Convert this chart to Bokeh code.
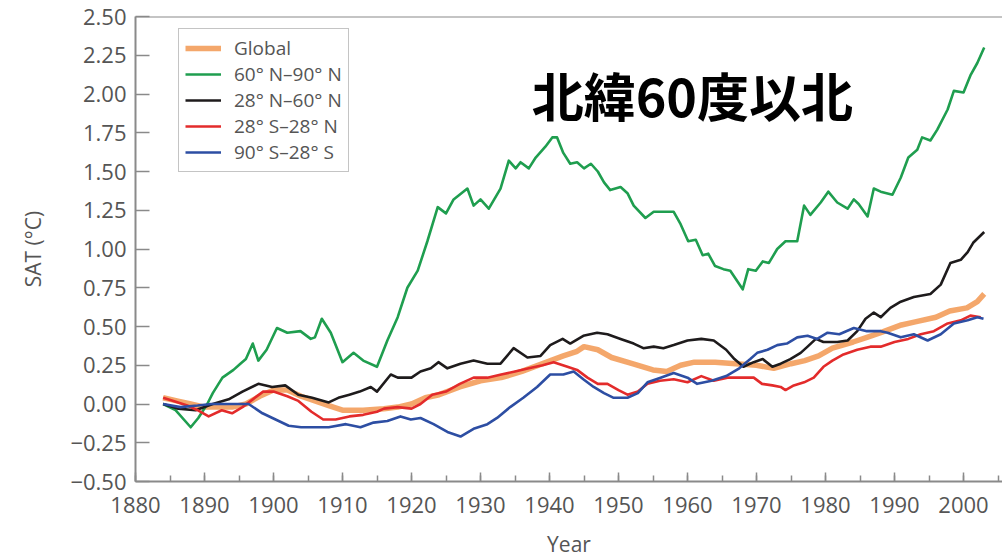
from bokeh.plotting import figure
from bokeh.models import (Range1d, FixedTicker, Legend, LegendItem, Label, Span,
                          CustomJSTickFormatter)
from bokeh.embed import file_html
from bokeh.resources import INLINE

# Surface air temperature anomalies (deg C) by latitude band, 1884-2003
years_global = [1884, 1886, 1888, 1890, 1892, 1894, 1896, 1898, 1900, 1902, 1904, 1906, 1908,
                1910, 1913, 1916, 1918, 1920, 1922, 1924, 1927, 1930, 1933, 1936, 1939, 1942,
                1944, 1945, 1947, 1949, 1952, 1955, 1957, 1959, 1961, 1964, 1967, 1970, 1972.5,
                1975, 1977, 1979, 1981, 1984, 1986, 1988, 1991, 1993, 1996, 1998, 2000.5, 2002,
                2003]
sat_global = [0.04, 0.02, 0.00, -0.02, -0.02, -0.02, 0.00, 0.05, 0.09, 0.09, 0.05, 0.02, -0.01,
              -0.04, -0.04, -0.03, -0.02, 0.00, 0.04, 0.06, 0.11, 0.15, 0.17, 0.21, 0.26, 0.31,
              0.34, 0.37, 0.35, 0.30, 0.26, 0.22, 0.21, 0.25, 0.27, 0.27, 0.26, 0.25, 0.23,
              0.26, 0.28, 0.31, 0.36, 0.40, 0.43, 0.46, 0.51, 0.53, 0.56, 0.60, 0.62, 0.66,
              0.71]

years_arctic = [1884, 1885.8, 1888, 1889.1, 1890.4, 1891.2, 1892.6, 1894.2, 1895.2, 1896, 1897,
                1897.8, 1899, 1900.5, 1902, 1903.9, 1905.4, 1906, 1907, 1908.3, 1910, 1911.6,
                1913, 1915, 1916.5, 1918, 1919.4, 1920.9, 1922.3, 1923.8, 1925, 1926.1, 1928.1,
                1929, 1930, 1931.2, 1932.9, 1934.1, 1935.1, 1935.8, 1937, 1938, 1939.4, 1940.4,
                1941.1, 1942, 1943, 1944, 1945, 1946, 1947, 1947.9, 1948.8, 1950.3, 1951.3,
                1952.2, 1953.9, 1955.1, 1958, 1959, 1960.1, 1961.2, 1962.2, 1963, 1964, 1965.2,
                1966.2, 1968, 1968.8, 1969.9, 1970.9, 1971.8, 1973, 1974.2, 1975.9, 1976.9,
                1977.8, 1979.3, 1980.4, 1981.7, 1983.2, 1984.1, 1984.8, 1986.1, 1987, 1988,
                1989.7, 1990.9, 1992, 1993.3, 1994, 1995.2, 1996.2, 1997.7, 1998.6, 2000, 2001,
                2002, 2003]
sat_arctic = [0.00, -0.04, -0.15, -0.09, 0.00, 0.07, 0.17, 0.22, 0.26, 0.29, 0.39,
              0.28, 0.35, 0.49, 0.46, 0.47, 0.42, 0.43, 0.55, 0.46, 0.27, 0.33,
              0.28, 0.24, 0.41, 0.56, 0.75, 0.86, 1.05, 1.27, 1.23, 1.32, 1.39,
              1.28, 1.32, 1.26, 1.39, 1.57, 1.52, 1.56, 1.52, 1.59, 1.66, 1.72,
              1.72, 1.62, 1.55, 1.56, 1.52, 1.55, 1.50, 1.43, 1.38, 1.40, 1.36,
              1.28, 1.20, 1.24, 1.24, 1.16, 1.05, 1.06, 0.96, 0.97, 0.89, 0.87,
              0.86, 0.74, 0.87, 0.86, 0.92, 0.91, 1.00, 1.05, 1.05, 1.28,
              1.22, 1.30, 1.37, 1.30, 1.26, 1.32, 1.29, 1.21, 1.39, 1.37,
              1.35, 1.46, 1.59, 1.64, 1.72, 1.70, 1.77, 1.90, 2.02, 2.01, 2.12,
              2.20, 2.30]

years_north_mid = [1884, 1886.2, 1888.7, 1891.2, 1893.5, 1895.5, 1897.8, 1899.8, 1901.7, 1903.6,
                   1905.6, 1908, 1909.4, 1911, 1912.5, 1914.1, 1915, 1917, 1918, 1920, 1921.3,
                   1922.8, 1923.9, 1925.2, 1927.1, 1929, 1931, 1932.9, 1934.8, 1936.8, 1938.7,
                   1940.1, 1941.9, 1943, 1944.9, 1946.9, 1948.4, 1950.3, 1952.2, 1953.6, 1955.1,
                   1956.5, 1958, 1960, 1962, 1963.8, 1965.6, 1966.8, 1968.1, 1969.6, 1970.9,
                   1972.3, 1973.5, 1974.9, 1976.4, 1977.4, 1978.6, 1979.7, 1981.7, 1983.2,
                   1984.6, 1985.8, 1987, 1988, 1989.4, 1990.9, 1992.8, 1995.2, 1996.7, 1998.1,
                   1999.6, 2000.6, 2001.4, 2003]
sat_north_mid = [0.00, -0.03, -0.04, 0.00, 0.03, 0.08, 0.13, 0.11, 0.12, 0.06,
                 0.04, 0.01, 0.04, 0.06, 0.08, 0.11, 0.08, 0.19, 0.17, 0.17, 0.21,
                 0.23, 0.27, 0.23, 0.26, 0.28, 0.26, 0.26, 0.36, 0.30, 0.31,
                 0.38, 0.42, 0.39, 0.44, 0.46, 0.45, 0.42, 0.39, 0.36, 0.37,
                 0.36, 0.38, 0.41, 0.42, 0.41, 0.35, 0.29, 0.24, 0.27, 0.29,
                 0.24, 0.26, 0.29, 0.33, 0.37, 0.42, 0.40, 0.40, 0.41,
                 0.47, 0.55, 0.59, 0.56, 0.62, 0.66, 0.69, 0.71, 0.77, 0.91,
                 0.93, 0.98, 1.04, 1.11]

years_tropics = [1884, 1885.5, 1887.5, 1889, 1890.6, 1892.5, 1894, 1895.5, 1897, 1898.5, 1900,
                 1902, 1903.6, 1905.5, 1907.2, 1909, 1911, 1913, 1915, 1916, 1918, 1920, 1921.3,
                 1923, 1925, 1927, 1929, 1931, 1933, 1935, 1937, 1939, 1940.6, 1942.6, 1944,
                 1945.5, 1947, 1948.4, 1950, 1951.3, 1952.8, 1954.2, 1956, 1958, 1960, 1962,
                 1963.8, 1965.8, 1968, 1969.6, 1970.8, 1972.3, 1973.5, 1974.2, 1975.4, 1976.9,
                 1978.3, 1979.7, 1981, 1982.6, 1984.6, 1986.5, 1988, 1990, 1992, 1993.8, 1995.7,
                 1997.7, 1999.6, 2001, 2002.5]
sat_tropics = [0.04, 0.02, -0.01, -0.04, -0.08, -0.04, -0.06, -0.02, 0.03, 0.08, 0.08,
               0.05, 0.02, -0.05, -0.10, -0.10, -0.08, -0.07, -0.05, -0.03, -0.02, -0.03, 0.00,
               0.06, 0.08, 0.13, 0.17, 0.17, 0.19, 0.21, 0.23, 0.25, 0.27, 0.24, 0.22,
               0.17, 0.13, 0.13, 0.09, 0.06, 0.08, 0.13, 0.15, 0.16, 0.14, 0.18,
               0.15, 0.17, 0.17, 0.17, 0.13, 0.12, 0.11, 0.09, 0.12, 0.14,
               0.17, 0.24, 0.28, 0.32, 0.35, 0.37, 0.37, 0.40, 0.42, 0.45, 0.47,
               0.52, 0.54, 0.57, 0.56]

years_south = [1884, 1886.5, 1889, 1891, 1894, 1896.4, 1898.4, 1900.3, 1902.2, 1904, 1906, 1908,
               1910.5, 1912.6, 1914.5, 1916.5, 1918.4, 1919.9, 1921.3, 1923.2, 1925.2, 1927.1,
               1929, 1931, 1932.4, 1934.3, 1936.2, 1938.2, 1940.1, 1942, 1943.5, 1944.9, 1946.4,
               1947.9, 1949.3, 1951.3, 1952.8, 1954.2, 1956.1, 1958, 1960, 1961.4, 1963.5,
               1965.6, 1967.5, 1969.1, 1970.1, 1971.6, 1973, 1974.4, 1975.9, 1977.4, 1978.8,
               1980.3, 1982, 1984.1, 1986, 1988, 1989, 1990.9, 1992.8, 1994.8, 1996.7, 1998.6,
               2000.6, 2002, 2002.9]
sat_south = [0.00, -0.02, -0.01, 0.00, 0.00, 0.00, -0.06, -0.10, -0.14, -0.15, -0.15, -0.15,
             -0.13, -0.15, -0.12, -0.11, -0.08, -0.10, -0.09, -0.13, -0.18, -0.21,
             -0.16, -0.13, -0.09, -0.02, 0.04, 0.11, 0.19, 0.19, 0.21, 0.16, 0.11,
             0.07, 0.04, 0.04, 0.07, 0.14, 0.17, 0.20, 0.17, 0.13, 0.15,
             0.18, 0.23, 0.29, 0.33, 0.35, 0.38, 0.39, 0.43, 0.44, 0.42,
             0.46, 0.45, 0.49, 0.47, 0.47, 0.46, 0.43, 0.45, 0.41, 0.45, 0.52,
             0.54, 0.56, 0.55]

series_labels = ["Global", "60\u00b0 N\u201390\u00b0 N", "28\u00b0 N\u201360\u00b0 N",
                 "28\u00b0 S\u201328\u00b0 N", "90\u00b0 S\u201328\u00b0 S"]
y_ticks = [-0.5, -0.25, 0.0, 0.25, 0.5, 0.75, 1.0, 1.25, 1.5, 1.75, 2.0, 2.25, 2.5]
x_ticks = list(range(1880, 2001, 10))
x_minor_ticks = list(range(1880, 2006, 5))

ORANGE = "#f39d5b"
GREEN = "#1f9e4f"
BLACK = "#1e1b1c"
RED = "#e32b2b"
BLUE = "#2d4ea3"
AXIS_GREY = "#8a8a8a"
TEXT_GREY = "#555555"
FONT = "Open Sans"

p = figure(width=1002, height=560, output_backend="svg", toolbar_location=None,
           x_range=Range1d(1880, 2005.65), y_range=Range1d(-0.5, 2.5),
           min_border_left=135, min_border_right=0, min_border_top=16, min_border_bottom=78)
p.outline_line_color = None
p.xgrid.visible = False
p.ygrid.visible = False
p.background_fill_color = "white"

# thick global mean under the regional curves
r_global = p.line(years_global, sat_global, line_color=ORANGE, line_width=5.5, line_alpha=0.9,
                  line_join="round")
r_arctic = p.line(years_arctic, sat_arctic, line_color=GREEN, line_width=2.6, line_join="round")
r_nmid = p.line(years_north_mid, sat_north_mid, line_color=BLACK, line_width=2.6,
                line_join="round")
r_trop = p.line(years_tropics, sat_tropics, line_color=RED, line_width=2.6, line_join="round")
r_south = p.line(years_south, sat_south, line_color=BLUE, line_width=2.6, line_join="round")

# top rule of the frame
p.add_layout(Span(location=2.5, dimension="width", line_color=AXIS_GREY, line_width=2))

# axes
xa = p.xaxis[0]
xa.ticker = FixedTicker(ticks=x_ticks, minor_ticks=x_minor_ticks)
xa.axis_line_color = AXIS_GREY
xa.axis_line_width = 2
xa.major_tick_line_color = AXIS_GREY
xa.minor_tick_line_color = AXIS_GREY
xa.major_tick_line_width = 1.5
xa.minor_tick_line_width = 1.5
xa.major_tick_in = 9
xa.major_tick_out = 0
xa.minor_tick_in = 6
xa.minor_tick_out = 0
xa.major_label_text_font = FONT
xa.major_label_text_font_size = "22px"
xa.major_label_text_color = TEXT_GREY
xa.major_label_standoff = 15
xa.axis_label = "Year"
xa.axis_label_text_font = FONT
xa.axis_label_text_font_size = "21px"
xa.axis_label_text_font_style = "normal"
xa.axis_label_text_color = TEXT_GREY
xa.axis_label_standoff = 14

ya = p.yaxis[0]
ya.ticker = FixedTicker(ticks=y_ticks)
ya.formatter = CustomJSTickFormatter(
    code="return (tick < 0 ? '\\u2212' : '') + Math.abs(tick).toFixed(2);")
ya.axis_line_color = AXIS_GREY
ya.axis_line_width = 2
ya.major_tick_line_color = AXIS_GREY
ya.major_tick_line_width = 1.5
ya.major_tick_in = 14
ya.major_tick_out = 0
ya.minor_tick_line_color = None
ya.major_label_text_font = FONT
ya.major_label_text_font_size = "22px"
ya.major_label_text_color = TEXT_GREY
ya.major_label_standoff = 9
ya.axis_label = "SAT (\u00b0C)"
ya.axis_label_text_font = FONT
ya.axis_label_text_font_size = "21px"
ya.axis_label_text_font_style = "normal"
ya.axis_label_text_color = TEXT_GREY
ya.axis_label_standoff = 20

renderers = [r_global, r_arctic, r_nmid, r_trop, r_south]
items = [LegendItem(label=lbl, renderers=[r]) for lbl, r in zip(series_labels, renderers)]

legend = Legend(items=items, location=(43, 309))
legend.border_line_color = AXIS_GREY
legend.border_line_width = 1.5
legend.background_fill_color = "white"
legend.background_fill_alpha = 1.0
legend.label_text_font = FONT
legend.label_text_font_size = "19px"
legend.label_text_color = TEXT_GREY
legend.glyph_width = 36
legend.glyph_height = 20
legend.label_height = 20
legend.label_standoff = 13
legend.spacing = 0
legend.padding = 6
legend.margin = 0
p.add_layout(legend)

p.add_layout(Label(x=1960.7, y=2.0, text="北緯60度以北", text_font="Noto Sans CJK JP",
                   text_font_style="bold", text_font_size="52px", text_color="black",
                   text_align="center", text_baseline="middle"))

open("out.html", "w").write(file_html(p, INLINE))
